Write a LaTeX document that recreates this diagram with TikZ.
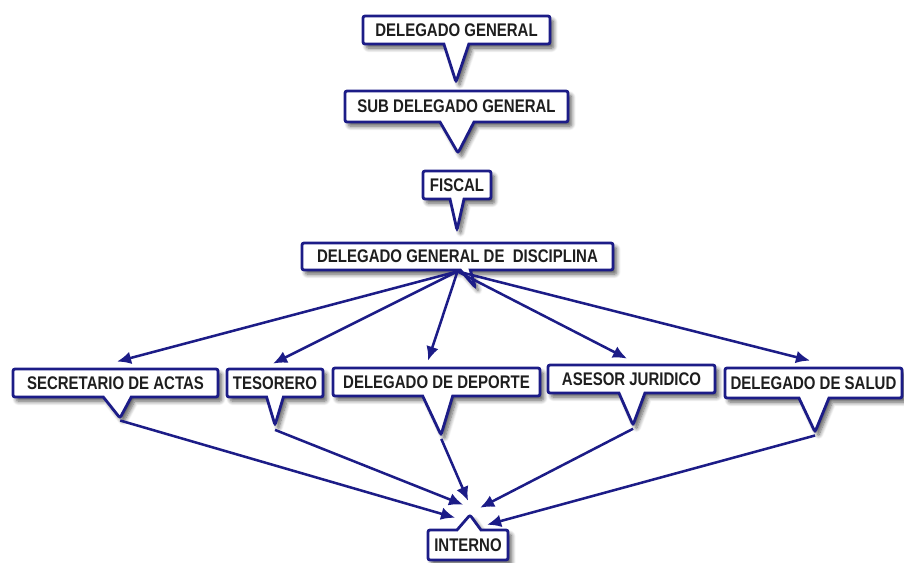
\documentclass[tikz,border=0pt]{standalone}
\usepackage{fontspec}
\setmainfont[FakeStretch=0.82]{Liberation Sans}
\usetikzlibrary{shapes.callouts,shadows.blur,arrows.meta}
\definecolor{cargoazul}{RGB}{28,28,135}
\definecolor{letra}{RGB}{30,30,30}
\tikzset{
  cargo/.style={rectangle callout, draw=cargoazul, line width=2pt, fill=white, rounded corners=1.5pt, inner sep=0pt, minimum height=0.7cm, text=letra, font=\fontsize{13}{15}\selectfont\bfseries, blur shadow={shadow xshift=2.5pt, shadow yshift=-3pt, shadow blur radius=3pt, shadow blur steps=8, shadow opacity=65}},
  flecha/.style={draw=cargoazul, line width=1.8pt, -{Latex[length=10pt,width=9pt]}}
}

\begin{document}
\begin{tikzpicture}[x=0.025cm, y=-0.025cm]
    \useasboundingbox (0,0) rectangle (904,563);
\node[cargo, minimum width=4.675cm, callout pointer width=0.625cm, callout absolute pointer={(456,82)}] (dg) at (456.5,30) {DELEGADO GENERAL}; % DelegadoGeneral
\node[cargo, minimum width=5.575cm, minimum height=0.775cm, callout pointer width=0.85cm, callout absolute pointer={(458,153)}] (sub) at (456.5,106.5) {SUB DELEGADO GENERAL}; % SubDelegado
\node[cargo, minimum width=1.7cm, callout pointer width=0.35cm, callout absolute pointer={(457,230)}] (fis) at (457,185) {FISCAL}; % Fiscal
\node[cargo, minimum width=7.775cm, minimum height=0.675cm] (dgd) at (457.5,256.5) {DELEGADO GENERAL DE \ DISCIPLINA}; % Disciplina
\node[cargo, minimum width=5.125cm, callout pointer width=0.7cm, callout absolute pointer={(120,418)}] (sec) at (115.5,383) {SECRETARIO DE ACTAS}; % Secretario
\node[cargo, minimum width=2.4cm, callout pointer width=0.42cm, callout absolute pointer={(275,425)}] (tes) at (275,383) {TESORERO}; % Tesorero
\node[cargo, minimum width=5.175cm, callout pointer width=0.75cm, callout absolute pointer={(441,435)}] (dep) at (436.5,382) {DELEGADO DE DEPORTE}; % Deporte
\node[cargo, minimum width=4.175cm, callout pointer width=0.65cm, callout absolute pointer={(633,425)}] (ase) at (631.5,379) {ASESOR JURIDICO}; % Asesor
\node[cargo, minimum width=4.425cm, minimum height=0.75cm, callout pointer width=0.75cm, callout absolute pointer={(815,432)}] (sal) at (813.5,383) {DELEGADO DE SALUD}; % Salud
\node[cargo, minimum width=2cm, minimum height=0.75cm, callout pointer width=0.6cm, callout absolute pointer={(470,515)}] (int) at (468,545) {INTERNO}; % Interno
\draw[flecha] (dgd.south) -- ([shift={(1.5,-6)}]sec.north); % a secretario
\draw[flecha] (dgd.south) -- ([shift={(-2,-4)}]tes.north); % a tesorero
\draw[flecha] (dgd.south) -- ([shift={(-8.5,-6)}]dep.north); % a deporte
\draw[flecha] (dgd.south) -- ([shift={(-4.5,-5)}]ase.north); % a asesor
\draw[flecha] (dgd.south) -- ([shift={(-3.5,-6)}]sal.north); % a salud
\draw[flecha] (sec.pointer) -- ([shift={(-15,5)}]int.pointer); % secretario a interno
\draw[flecha] (tes.pointer) -- ([shift={(-7,-8)}]int.pointer); % tesorero a interno
\draw[flecha] (dep.pointer) -- ([shift={(-2,-12)}]int.pointer); % deporte a interno
\draw[flecha] (ase.pointer) -- ([shift={(10,-5)}]int.pointer); % asesor a interno
\draw[flecha] (sal.pointer) -- ([shift={(17,12)}]int.pointer); % salud a interno
\end{tikzpicture}
\end{document}
